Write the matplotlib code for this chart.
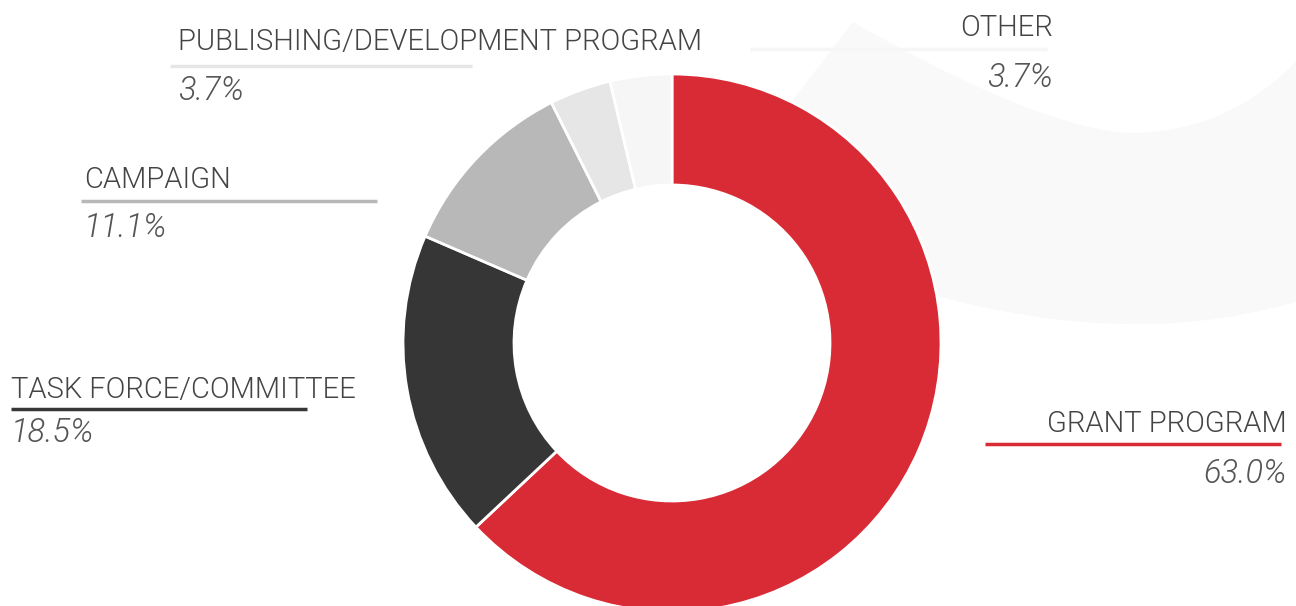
import matplotlib
matplotlib.use("Agg")
import matplotlib.pyplot as plt
from matplotlib.path import Path
from matplotlib.patches import PathPatch

# slice data, clockwise from the top
categories = ["GRANT PROGRAM", "TASK FORCE/COMMITTEE", "CAMPAIGN",
              "PUBLISHING/DEVELOPMENT PROGRAM", "OTHER"]
shares = [63.0, 18.5, 11.1, 3.7, 3.7]
colors = ["#d92b35", "#363636", "#b8b8b8", "#e6e6e6", "#f6f6f6"]

W, H = 1296, 606


# picture y (from top) -> data y
def py(y):
    return H - y


fig = plt.figure(figsize=(W / 100, H / 100), dpi=100)
ax = fig.add_axes([0, 0, 1, 1])

# faint decorative band behind the donut
band = [(853, 22), (940, 72), (1060, 132), (1133, 133),
        (1200, 132), (1262, 105), (1310, 45),
        (1310, 298),
        (1250, 316), (1190, 325), (1133, 324),
        (1060, 324), (985, 310), (927, 293),
        (880, 258), (762, 140), (853, 22)]
codes = [Path.MOVETO, Path.CURVE4, Path.CURVE4, Path.CURVE4,
         Path.CURVE4, Path.CURVE4, Path.CURVE4,
         Path.LINETO,
         Path.CURVE4, Path.CURVE4, Path.CURVE4,
         Path.CURVE4, Path.CURVE4, Path.CURVE4,
         Path.LINETO, Path.LINETO, Path.CLOSEPOLY]
band_path = Path([(x, py(y)) for x, y in band], codes)
ax.add_patch(PathPatch(band_path, facecolor="#f9f9f9", edgecolor="none", zorder=0))

# donut
cx, cy, r_out, r_in = 672, 343, 269, 158
ax.pie(shares, colors=colors, startangle=90, counterclock=False,
       center=(cx, py(cy)), radius=r_out,
       wedgeprops=dict(width=r_out - r_in, edgecolor="white", linewidth=2),
       frame=True)

# label layout: x, name baseline, pct baseline, alignment, line x0, x1, line y
layout = {
    "GRANT PROGRAM": (1287, 432, 483, "right", 985, 1281, 444),
    "TASK FORCE/COMMITTEE": (11, 398, 442, "left", 11, 307, 409),
    "CAMPAIGN": (84, 188, 237, "left", 81, 377, 201),
    "PUBLISHING/DEVELOPMENT PROGRAM": (178, 50, 100, "left", 170, 472, 66),
    "OTHER": (1053, 36, 87, "right", 750, 1047, 49),
}

for name, share, col in zip(categories, shares, colors):
    x, yb, yp, ha, x0, x1, yl = layout[name]
    ax.plot([x0, x1], [py(yl), py(yl)], color=col, lw=2.5,
            solid_capstyle="butt", zorder=3)
    ax.text(x, py(yb), name, ha=ha, va="baseline", fontsize=21,
            family="Roboto", fontweight=300, color="#444444")
    ax.text(x, py(yp), f"{share:.1f}%", ha=ha, va="baseline", fontsize=23.5,
            family="Roboto", fontweight=300, style="italic", color="#555555")

ax.set_xlim(0, W)
ax.set_ylim(0, H)
ax.set_aspect("equal")
ax.axis("off")

fig.savefig("out.png", dpi=100, facecolor="white")
